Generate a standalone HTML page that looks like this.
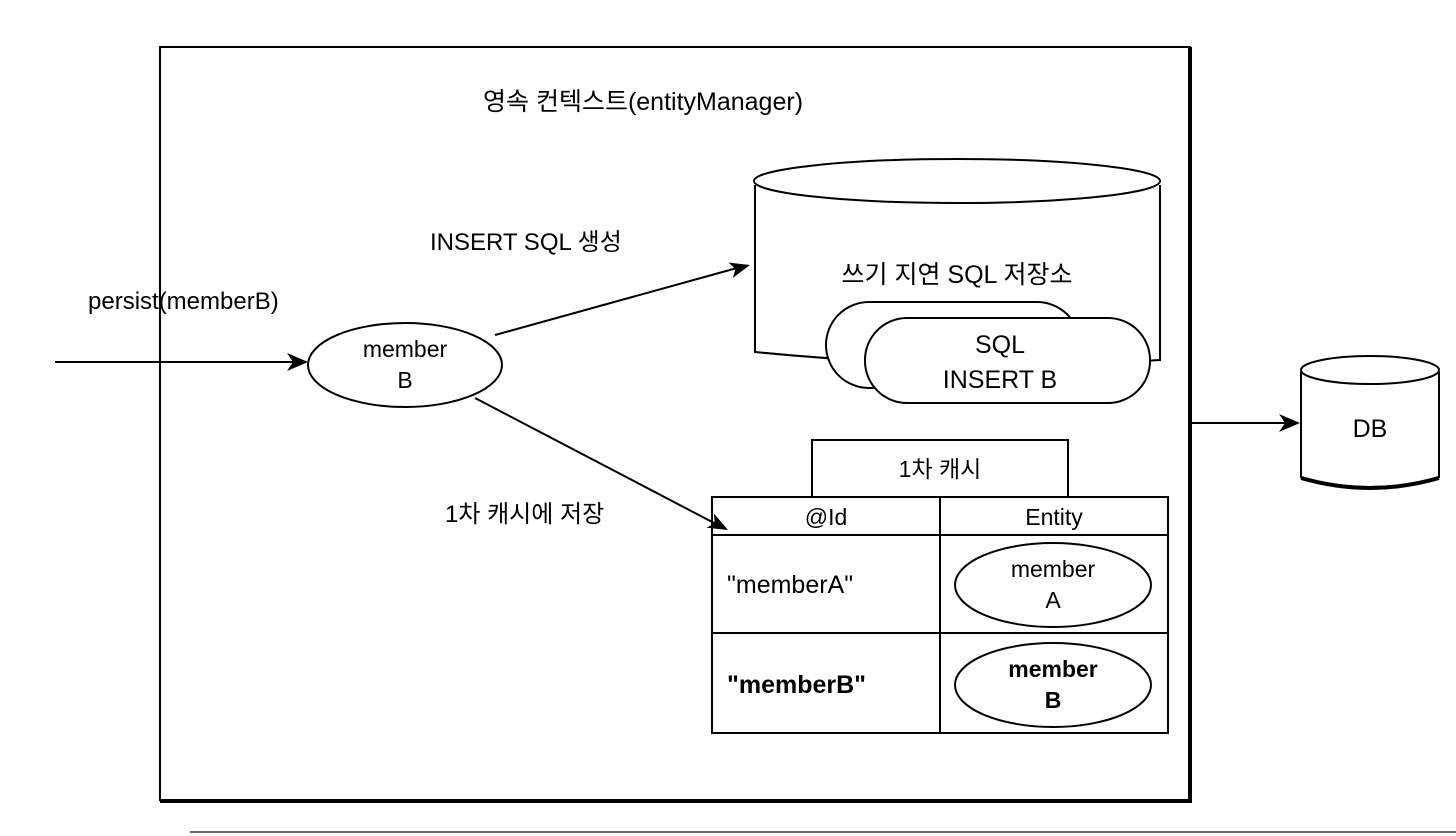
<!DOCTYPE html>
<html><head><meta charset="utf-8"><style>
html,body{margin:0;padding:0;background:#fff;}
svg{display:block;}
text{font-family:"Liberation Sans","Noto Sans CJK KR",sans-serif;fill:#000;}
</style></head><body>
<svg width="1456" height="836" viewBox="0 0 1456 836" xmlns="http://www.w3.org/2000/svg">
<!-- outer box -->
<rect x="160" y="47" width="1030" height="753" fill="none" stroke="#000" stroke-width="2"/>
<line x1="1190" y1="47" x2="1190" y2="802" stroke="#000" stroke-width="4"/>
<line x1="160" y1="801" x2="1192" y2="801" stroke="#000" stroke-width="4"/>
<line x1="190" y1="832" x2="1456" y2="832" stroke="#666" stroke-width="2"/>
<text x="483" y="110" font-size="25">영속 컨텍스트(entityManager)</text>

<!-- big cylinder -->
<path d="M755,185 L755,352 Q957,372 1160,360 L1160,185" fill="#fff" stroke="#000" stroke-width="2"/>
<ellipse cx="957" cy="181" rx="203" ry="22" fill="#fff" stroke="#000" stroke-width="2"/>
<text x="957" y="283" font-size="25" text-anchor="middle">쓰기 지연 SQL 저장소</text>
<rect x="826" y="302" width="254" height="86" rx="43" fill="#fff" stroke="#000" stroke-width="2"/>
<rect x="865" y="318" width="285" height="85" rx="42" fill="#fff" stroke="#000" stroke-width="2"/>
<text x="1000" y="353" font-size="25" text-anchor="middle">SQL</text>
<text x="1000" y="388" font-size="25" text-anchor="middle">INSERT B</text>

<!-- DB -->
<line x1="1190" y1="423" x2="1288" y2="423" stroke="#000" stroke-width="2"/>
<polygon points="1300,423 1279,414 1285,423 1279,432" fill="#000"/>
<path d="M1301,372 L1301,477 Q1370,497 1439,477 L1439,372" fill="#fff" stroke="#000" stroke-width="2"/>
<path d="M1301,478 Q1370,498 1439,478" fill="none" stroke="#000" stroke-width="4"/>
<ellipse cx="1370" cy="370" rx="69" ry="14" fill="#fff" stroke="#000" stroke-width="2"/>
<text x="1370" y="437" font-size="25" text-anchor="middle">DB</text>

<!-- member B -->
<line x1="55" y1="362" x2="295" y2="362" stroke="#000" stroke-width="2"/>
<polygon points="308,362 287,353 293,362 287,371" fill="#000"/>
<text x="88" y="309" font-size="24">persist(memberB)</text>
<ellipse cx="405" cy="365" rx="97" ry="42" fill="#fff" stroke="#000" stroke-width="2"/>
<text x="405" y="357" font-size="23" text-anchor="middle">member</text>
<text x="405" y="388" font-size="23" text-anchor="middle">B</text>
<line x1="495" y1="335" x2="737" y2="268" stroke="#000" stroke-width="2"/>
<polygon points="750,265 732.8,278 735.5,269 728.6,262.6" fill="#000"/>
<text x="430" y="250" font-size="24">INSERT SQL 생성</text>
<text x="445" y="522" font-size="24">1차 캐시에 저장</text>

<!-- table -->
<rect x="812" y="440" width="256" height="57" fill="#fff" stroke="#000" stroke-width="2"/>
<text x="940" y="477" font-size="23" text-anchor="middle">1차 캐시</text>
<rect x="712" y="497" width="456" height="236" fill="#fff" stroke="#000" stroke-width="2"/>
<line x1="712" y1="535" x2="1168" y2="535" stroke="#000" stroke-width="2"/>
<line x1="712" y1="633" x2="1168" y2="633" stroke="#000" stroke-width="2"/>
<line x1="940" y1="497" x2="940" y2="733" stroke="#000" stroke-width="2"/>
<text x="826" y="525" font-size="23" text-anchor="middle">@Id</text>
<text x="1054" y="525" font-size="23" text-anchor="middle">Entity</text>
<text x="727" y="593" font-size="25">"memberA"</text>
<text x="727" y="693" font-size="25" font-weight="bold">"memberB"</text>
<ellipse cx="1053" cy="585" rx="98" ry="42" fill="#fff" stroke="#000" stroke-width="2"/>
<text x="1053" y="577" font-size="23" text-anchor="middle">member</text>
<text x="1053" y="608" font-size="23" text-anchor="middle">A</text>
<ellipse cx="1053" cy="685" rx="98" ry="42" fill="#fff" stroke="#000" stroke-width="2"/>
<text x="1053" y="677" font-size="23" text-anchor="middle" font-weight="bold">member</text>
<text x="1053" y="708" font-size="23" text-anchor="middle" font-weight="bold">B</text>

<!-- arrow to cache (drawn on top) -->
<line x1="475" y1="398" x2="716" y2="524" stroke="#000" stroke-width="2"/>
<polygon points="728,530 706.6,527.8 714.7,523.1 714,513.6" fill="#000"/>
</svg>
</body></html>
